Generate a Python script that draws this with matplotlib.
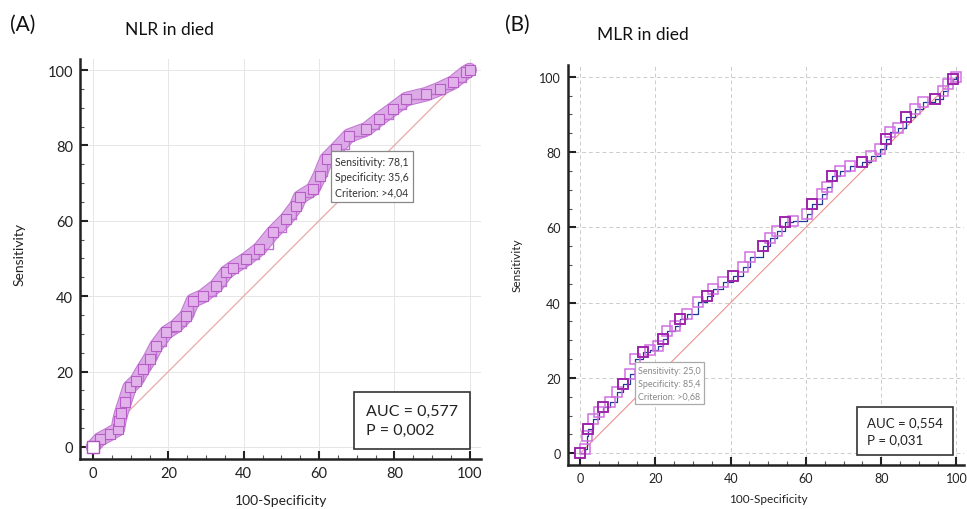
import matplotlib
matplotlib.use("Agg")
import matplotlib.pyplot as plt
import matplotlib.patheffects as pe
from matplotlib.ticker import MultipleLocator

plt.rcParams['font.family'] = ['Lato', 'DejaVu Sans']

# ---- Data ----
nlr_fpr = [0, 1.8, 4.4, 6.6, 7.0, 7.5, 8.4, 9.7, 11.5, 13.3, 15.0, 16.8, 19.5, 22.0, 24.8,
           26.5, 29.2, 32.7, 35.4, 37.2, 40.7, 44.2, 47.8, 51.3, 54.0, 54.9, 58.4, 60.2,
           62.0, 64.6, 68.0, 72.6, 76.0, 79.6, 83.2, 88.5, 92.0, 95.6, 99.0, 100]
nlr_tpr = [0, 2.0, 3.4, 4.7, 7.0, 9.0, 11.8, 15.8, 17.5, 20.6, 23.3, 26.8, 30.4, 32.0, 34.8,
           38.8, 40.0, 42.7, 46.3, 47.6, 49.8, 52.5, 56.9, 60.4, 64.0, 66.2, 68.4, 72.0,
           76.4, 79.0, 82.6, 84.3, 87.0, 89.6, 92.3, 93.6, 95.0, 96.7, 99.4, 100]

mlr_fpr = [0, 1.3, 1.8, 2.2, 3.5, 4.9, 6.2, 8.0, 9.7, 11.5, 13.3, 14.6, 16.8, 18.6, 20.8,
           22.1, 23.0, 25.2, 26.5, 28.3, 31.4, 33.6, 35.4, 38.0, 40.7, 43.4, 45.1, 48.7,
           50.4, 52.2, 54.4, 56.6, 60.2, 61.5, 64.2, 65.5, 66.8, 69.0, 71.7, 74.8, 77.4,
           79.6, 81.4, 82.3, 84.5, 86.7, 88.9, 91.2, 94.2, 96.5, 97.8, 99.1, 100]
mlr_tpr = [0, 1.2, 4.7, 6.5, 9.1, 10.9, 12.2, 13.5, 16.2, 18.4, 21.0, 25.0, 26.8, 27.3, 28.6,
           30.4, 32.6, 33.9, 35.7, 37.0, 40.1, 41.9, 43.6, 45.4, 47.2, 49.4, 52.0, 55.1,
           57.3, 59.1, 61.3, 61.8, 63.5, 66.2, 68.8, 70.6, 73.7, 75.0, 76.4, 77.3, 79.0,
           80.8, 83.5, 85.2, 86.5, 89.2, 91.4, 93.2, 94.1, 96.3, 98.0, 99.4, 100]

panel_labels = ["(A)", "(B)"]
titles = ["NLR in died", "MLR in died"]
crit_texts = ["Sensitivity: 78,1\nSpecificity: 35,6\nCriterion: >4,04",
              "Sensitivity: 25,0\nSpecificity: 85,4\nCriterion: >0,68"]
auc_texts = ["AUC = 0,577\nP = 0,002", "AUC = 0,554\nP = 0,031"]
ticks = [0, 20, 40, 60, 80, 100]

W, H = 967, 510
fig = plt.figure(figsize=(W / 100, H / 100), dpi=100)

def fx(px):
    return px / W

def fy(py):
    return 1 - py / H

axA = fig.add_axes([fx(80), fy(460), fx(481 - 80), (460 - 59.7) / H])
axB = fig.add_axes([fx(567.7), fy(466), fx(964 - 567.7), (466 - 66) / H])

def style_axes(ax, xlim, ylim, fs, grid_ls, grid_col):
    ax.set_xlim(*xlim)
    ax.set_ylim(*ylim)
    for s in ['top', 'right']:
        ax.spines[s].set_visible(False)
    for s in ['left', 'bottom']:
        ax.spines[s].set_linewidth(1.8)
        ax.spines[s].set_color('#222222')
    ax.set_xticks(ticks)
    ax.set_yticks(ticks)
    ax.xaxis.set_minor_locator(MultipleLocator(5))
    ax.yaxis.set_minor_locator(MultipleLocator(5))
    ax.tick_params(which='major', direction='in', length=6, width=1.5, labelsize=fs,
                   colors='#222222', pad=5)
    ax.tick_params(which='minor', direction='in', length=3, width=0.8, colors='#555555')
    ax.grid(True, which='major', linestyle=grid_ls, color=grid_col, linewidth=0.7)
    ax.set_axisbelow(True)
    ax.set_facecolor('white')

style_axes(axA, (-3.45, 103), (-3.2, 103), 10.5, '-', '#e6e6e6')
style_axes(axB, (-3.3, 102), (-3.1, 103.1), 9, (0, (4, 3)), '#cccccc')

# Panel A
axA.plot([0, 100], [0, 100], color='#e8a8a8', lw=0.9, zorder=1)
axA.plot(nlr_fpr, nlr_tpr, color='#dcaae6', lw=9, solid_joinstyle='round',
         solid_capstyle='round', zorder=2,
         path_effects=[pe.Stroke(linewidth=10.5, foreground='#c27ad2'), pe.Normal()])
axA.step(nlr_fpr, nlr_tpr, where='post', color='#c070d0', lw=1.0, zorder=3)
axA.plot(nlr_fpr, nlr_tpr, ls='none', marker='s', ms=7, mfc='#e2b2ea',
         mec='#b85cc8', mew=0.8, zorder=3)
axA.plot([0], [0], ls='none', marker='s', ms=8, mfc='white', mec='#b050c0', mew=1, zorder=4)
axA.text(64.3, 77.3, crit_texts[0], fontsize=7.6, va='top', ha='left', color='#333333',
         linespacing=1.5,
         bbox=dict(boxstyle='square,pad=0.4', fc='white', ec='#888888', lw=0.9), zorder=5)
axA.text(72.4, 7.0, auc_texts[0], fontsize=11.5, va='center', ha='left', color='#222222',
         linespacing=1.45,
         bbox=dict(boxstyle='square,pad=0.75', fc='white', ec='#333333', lw=1.2), zorder=5)

# Panel B
axB.plot([0, 100], [0, 100], color='#f09090', lw=0.8, zorder=1)
axB.step(mlr_fpr, mlr_tpr, where='post', color='#1f3a93', lw=0.9, zorder=2)
axB.plot(mlr_fpr, mlr_tpr, ls='none', marker='s', ms=7, mfc='none',
         mec='#d070e0', mew=1.1, zorder=3)
axB.plot(mlr_fpr[::3], mlr_tpr[::3], ls='none', marker='s', ms=7, mfc='none',
         mec='#9a20a8', mew=1.3, zorder=3)
axB.text(15.5, 23.3, crit_texts[1], fontsize=6.5, va='top', ha='left', color='#888888',
         linespacing=1.6,
         bbox=dict(boxstyle='square,pad=0.35', fc='white', ec='#aaaaaa', lw=0.9), zorder=5)
axB.text(76.2, 5.9, auc_texts[1], fontsize=9.5, va='center', ha='left', color='#222222',
         linespacing=1.5,
         bbox=dict(boxstyle='square,pad=0.75', fc='white', ec='#333333', lw=1.2), zorder=5)

# Figure texts
fig.text(fx(10), fy(25), panel_labels[0], fontsize=15, va='center', ha='left', color='#111111')
fig.text(fx(125), fy(30), titles[0], fontsize=12.5, va='center', ha='left', color='#111111')
fig.text(fx(505), fy(25), panel_labels[1], fontsize=15, va='center', ha='left', color='#111111')
fig.text(fx(597), fy(35), titles[1], fontsize=12.5, va='center', ha='left', color='#111111')

fig.text(fx(20), fy(255), "Sensitivity", rotation=90, fontsize=10, va='center', ha='center',
         color='#222222')
fig.text(fx(281), fy(501), "100-Specificity", fontsize=10, va='center', ha='center',
         color='#222222')
fig.text(fx(517), fy(265), "Sensitivity", rotation=90, fontsize=8.5, va='center', ha='center',
         color='#222222')
fig.text(fx(768), fy(500), "100-Specificity", fontsize=8.5, va='center', ha='center',
         color='#222222')

fig.savefig("out.png", dpi=100, facecolor='white')
